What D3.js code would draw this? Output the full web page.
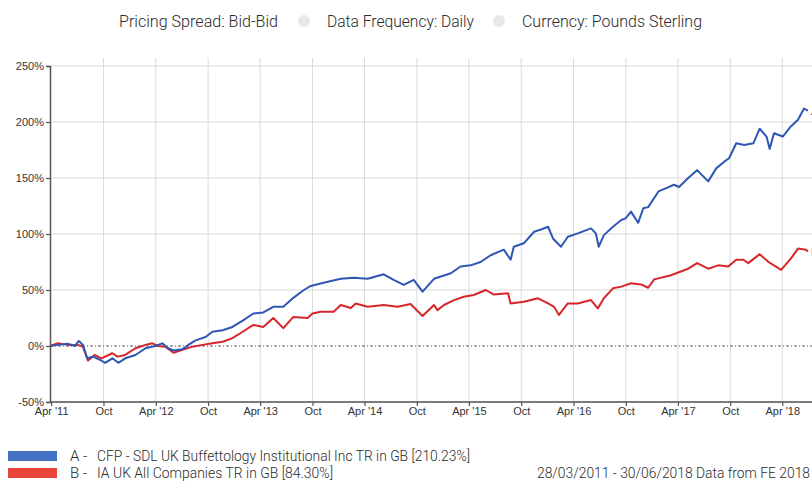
<!DOCTYPE html>
<html><head><meta charset="utf-8">
<script src="https://cdn.jsdelivr.net/npm/d3@7"></script>
<style>
html,body{margin:0;padding:0;background:#fff;overflow:hidden;}
svg{display:block;}
</style></head>
<body>
<svg id="chart" width="812" height="481"></svg>
<script>
// ---------- DATA ----------
const headerItems = ["Pricing Spread: Bid-Bid", "Data Frequency: Daily", "Currency: Pounds Sterling"];
const yTicks = [-50, 0, 50, 100, 150, 200, 250];
const xTickDates = ["2011-04-01","2011-10-01","2012-04-01","2012-10-01","2013-04-01","2013-10-01","2014-04-01","2014-10-01","2015-04-01","2015-10-01","2016-04-01","2016-10-01","2017-04-01","2017-10-01","2018-04-01"];
const xTickLabels = ["Apr '11","Oct","Apr '12","Oct","Apr '13","Oct","Apr '14","Oct","Apr '15","Oct","Apr '16","Oct","Apr '17","Oct","Apr '18"];
const seriesNames = ["CFP - SDL UK Buffettology Institutional Inc TR in GB [210.23%]", "IA UK All Companies TR in GB [84.30%]"];
const seriesCodes = ["A", "B"];
const footerText = "28/03/2011 - 30/06/2018  Data from FE 2018";

const datesA = ["2011-03-28","2011-04-25","2011-05-29","2011-06-23","2011-07-07","2011-07-21","2011-08-05","2011-08-26","2011-09-20","2011-10-07","2011-11-01","2011-11-22","2011-12-16","2012-01-21","2012-02-25","2012-03-30","2012-04-24","2012-05-14","2012-06-02","2012-07-03","2012-07-24","2012-08-18","2012-09-22","2012-10-16","2012-11-21","2012-12-25","2013-01-30","2013-03-08","2013-04-12","2013-05-17","2013-06-21","2013-07-26","2013-09-01","2013-09-25","2013-11-09","2014-01-08","2014-02-22","2014-04-12","2014-06-07","2014-07-12","2014-08-16","2014-09-20","2014-10-21","2014-11-30","2014-12-24","2015-01-28","2015-03-03","2015-04-07","2015-05-12","2015-06-16","2015-08-01","2015-08-25","2015-09-05","2015-10-10","2015-11-15","2015-12-09","2016-01-03","2016-01-20","2016-02-17","2016-03-12","2016-04-16","2016-06-01","2016-06-18","2016-06-28","2016-07-16","2016-08-17","2016-09-15","2016-09-30","2016-10-19","2016-11-13","2016-12-01","2016-12-18","2017-01-23","2017-02-19","2017-03-18","2017-04-05","2017-05-07","2017-06-07","2017-07-16","2017-08-13","2017-09-10","2017-09-27","2017-10-22","2017-11-19","2017-12-21","2018-01-12","2018-02-05","2018-02-16","2018-03-03","2018-04-03","2018-05-01","2018-05-26","2018-06-16","2018-06-30"];
const valuesA = [0,1,2,0,4.5,1,-11,-9.5,-12.5,-15,-11,-15,-11,-8,-2,0,2.4,-2,-4,-3,1,5,8,12.8,14,17,22.6,29,30,35,35,43,50,53.6,56.5,60,61,60,64,59,54.5,59,48.5,60,62,65,71,72,75,81,86,77,88.6,91.7,102,104,106.5,96,88.6,97.6,100.6,105,100.6,88.6,99,106.5,112.5,114,120,110,123,124,138,141,144,142,150,157,147,158.6,164.6,167.6,181,179.5,181,194,187,176,190,187,196,202,212,210.23];

const datesB = ["2011-03-28","2011-04-25","2011-05-29","2011-07-03","2011-07-21","2011-08-08","2011-08-31","2011-09-24","2011-11-01","2011-11-19","2011-12-16","2012-01-21","2012-02-25","2012-03-20","2012-04-08","2012-05-04","2012-06-02","2012-07-03","2012-08-07","2012-09-12","2012-10-16","2012-11-21","2012-12-25","2013-01-23","2013-03-08","2013-04-12","2013-05-17","2013-06-21","2013-07-26","2013-09-14","2013-10-01","2013-10-30","2013-12-14","2014-01-08","2014-02-12","2014-03-01","2014-04-12","2014-06-07","2014-07-26","2014-09-09","2014-10-21","2014-11-30","2014-12-12","2015-01-04","2015-02-08","2015-03-14","2015-04-18","2015-05-30","2015-06-26","2015-08-16","2015-08-25","2015-10-10","2015-11-29","2016-01-03","2016-01-24","2016-02-10","2016-03-12","2016-04-16","2016-06-01","2016-06-25","2016-07-16","2016-08-17","2016-09-15","2016-10-19","2016-11-23","2016-12-18","2017-01-08","2017-03-05","2017-05-07","2017-06-07","2017-07-16","2017-08-20","2017-09-24","2017-10-22","2017-11-16","2017-12-03","2018-01-12","2018-02-12","2018-03-03","2018-03-28","2018-05-01","2018-05-26","2018-06-23","2018-06-30"];
const valuesB = [0,2.4,1,1,-0.5,-13,-8,-11,-6.5,-9.5,-8,-2,1,2.4,0,-0.6,-6,-3.5,-0.6,1,2.4,3.8,7,11.6,18.8,17,25,16,26,25,29,30.6,30.6,36.6,34,38,35,36.6,35,37.5,26.8,36.6,32,36.6,41,44,45.5,50,46,47,38,39.5,42.6,38,35,27.7,38,38,41,33.6,42.6,51.5,53,56,55,52,59.5,63,69,74,69,72,71,77,77,74,82,75,72,68,78,87,86,84.3];

const colors = ["#3056b4", "#d7262b"];
const swatchColors = ["#4470c3", "#e8443a"];

// ---------- CHART ----------
const svg = d3.select("#chart");
const parse = d3.timeParse("%Y-%m-%d");
const x = d3.scaleTime().domain([parse("2011-03-28"), parse("2018-06-30")]).range([50, 808]);
const y = d3.scaleLinear().domain([-50, 250]).range([402, 66]);
const plotTop = 58, plotRight = 812;

const thinFont = "Roboto, 'Open Sans', sans-serif";

// header
const headerX = [119, 327, 522];
const headerW = [159, 147, 180];
svg.append("g").selectAll("text").data(headerItems).join("text")
  .attr("x", (d,i) => headerX[i]).attr("y", 27)
  .attr("font-family", thinFont).attr("font-weight", 300).attr("font-size", 17)
  .attr("fill", "#2b2b2b")
  .attr("textLength", (d,i) => headerW[i]).attr("lengthAdjust", "spacingAndGlyphs")
  .text(d => d);
svg.append("g").selectAll("circle").data([304, 499]).join("circle")
  .attr("cx", d => d).attr("cy", 21).attr("r", 6).attr("fill", "#e8e8e8");

// gridlines
const grid = svg.append("g");
grid.selectAll("line.h").data(yTicks.filter(v => v !== 0)).join("line")
  .attr("x1", 50).attr("x2", plotRight)
  .attr("y1", d => y(d)).attr("y2", d => y(d))
  .attr("stroke", "#dadada").attr("stroke-width", 1);
grid.selectAll("line.v").data(xTickDates.slice(1)).join("line")
  .attr("x1", d => x(parse(d))).attr("x2", d => x(parse(d)))
  .attr("y1", plotTop).attr("y2", 402)
  .attr("stroke", "#dadada").attr("stroke-width", 1);

// zero line
svg.append("line")
  .attr("x1", 50).attr("x2", plotRight).attr("y1", y(0)).attr("y2", y(0))
  .attr("stroke", "#555").attr("stroke-width", 1).attr("stroke-dasharray", "3,2,1,2");

// series lines
const line = d3.line().x(d => x(d.date)).y(d => y(d.v));
const series = [
  datesA.map((d,i) => ({date: parse(d), v: valuesA[i]})),
  datesB.map((d,i) => ({date: parse(d), v: valuesB[i]}))
];
[1,0].forEach(k => {
  svg.append("path").datum(series[k])
    .attr("d", line).attr("fill", "none")
    .attr("stroke", colors[k]).attr("stroke-width", 2)
    .attr("stroke-linejoin", "round");
});

// end labels (mostly beyond the right edge, as in the reference)
svg.append("g").selectAll("text").data([0,1]).join("text")
  .attr("x", 811).attr("y", k => y(k === 0 ? valuesA[valuesA.length-1] : valuesB[valuesB.length-1]) + 4)
  .attr("font-family", "Liberation Sans, Arial, sans-serif").attr("font-size", 11)
  .attr("fill", "#333").text(k => seriesCodes[k]);

// axes
const yAxis = d3.axisLeft(y).tickValues(yTicks).tickFormat(d => d + "%").tickSize(4).tickPadding(2);
const gy = svg.append("g").attr("transform", "translate(50,0)").call(yAxis);
const xAxis = d3.axisBottom(x).tickValues(xTickDates.map(parse))
  .tickFormat((d,i) => xTickLabels[i]).tickSize(4).tickPadding(1);
const gx = svg.append("g").attr("transform", "translate(0,402)").call(xAxis);
[gx, gy].forEach(g => {
  g.select(".domain").attr("stroke", "#555").attr("stroke-width", 1.5);
  g.selectAll(".tick line").attr("stroke", "#555").attr("stroke-width", 1.2);
  g.selectAll(".tick text").attr("font-family", "Liberation Sans, Arial, sans-serif")
    .attr("font-size", 11).attr("fill", "#333");
});
gx.select(".domain").attr("d", "M50,0H812");

// legend
const legend = svg.append("g");
const legY = [451, 468];
legend.selectAll("rect").data([0,1]).join("rect")
  .attr("x", 8).attr("y", k => legY[k]).attr("width", 49).attr("height", 10)
  .attr("fill", k => swatchColors[k]);
legend.selectAll("text.code").data([0,1]).join("text")
  .attr("x", 70).attr("y", k => legY[k] + 10)
  .attr("font-family", thinFont).attr("font-weight", 300).attr("font-size", 15)
  .attr("fill", "#2b2b2b").text(k => seriesCodes[k] + " -");
const legW = [373, 236];
legend.selectAll("text.name").data([0,1]).join("text")
  .attr("x", 97).attr("y", k => legY[k] + 10)
  .attr("font-family", thinFont).attr("font-weight", 300).attr("font-size", 15)
  .attr("fill", "#2b2b2b")
  .attr("textLength", k => legW[k]).attr("lengthAdjust", "spacingAndGlyphs")
  .text(k => seriesNames[k]);
svg.append("text").attr("x", 537).attr("y", 478)
  .attr("font-family", thinFont).attr("font-weight", 300).attr("font-size", 15)
  .attr("fill", "#2b2b2b").attr("textLength", 273).attr("lengthAdjust", "spacingAndGlyphs")
  .text(footerText);
</script>
</body></html>
